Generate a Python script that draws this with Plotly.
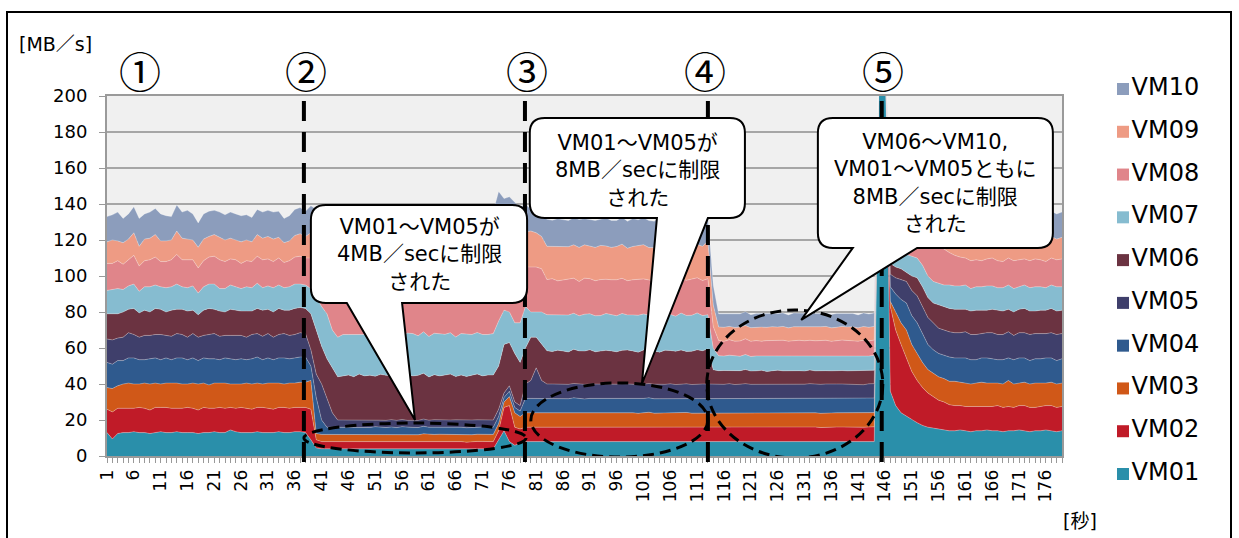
import plotly.graph_objects as go

# ---------------------------------------------------------------- data
seconds = list(range(1, 180))
vm_names = ["VM01", "VM02", "VM03", "VM04", "VM05",
            "VM06", "VM07", "VM08", "VM09", "VM10"]
vm_colors = ["#2A8FAA", "#C01B28", "#D05818", "#2F5A8E", "#3F3F6B",
             "#6B3341", "#86BCD0", "#E0858A", "#EE9B84", "#8C9DBC"]

tick_seconds = list(range(1, 180, 5))

vm01 = [13, 9.5, 12.5, 13, 13, 13.5, 13, 13, 12.5, 13, 13.5, 13, 13, 13.5, 13, 13, 13, 12.5, 13, 13,
        13.5, 13, 13, 14.5, 13.5, 13, 13, 13, 13.5, 13, 13, 13, 13.5, 13, 13, 13.5, 13.5,
        13, 9, 4.5, 4, 4, 4, 4,
        4, 3.9, 4.1, 4, 3.8, 4, 4.2, 4, 3.9, 4, 4.1, 4, 3.8, 4, 4, 4.2, 3.9, 4, 4, 4.1, 3.9, 4, 4, 3.8,
        4, 4.1, 4, 4,
        4, 9, 14, 8, 6, 7,
        8, 8, 8, 8,
        8, 8.1, 7.9, 8, 8, 8.2, 8, 7.9, 8, 8.1, 8, 8, 7.9, 8, 8.2, 8, 8, 7.9, 8, 8.1, 8, 8, 7.9, 8, 8,
        8.1, 8, 7.9, 8, 8, 8,
        8,
        7.9, 8, 8, 8.1, 7.9, 8, 8, 7.9, 8.1, 8, 8, 7.9, 8, 8.1, 8, 7.9, 8, 8, 8.1, 7.9, 8, 8, 7.9, 8.1,
        8, 8, 7.9, 8, 8.1, 8,
        240, 235,
        36, 28, 24, 22, 20, 18.5, 17, 16, 15.5, 15, 14.5, 14, 14, 14.5, 14, 13.5, 14, 14, 14.5, 14,
        14, 13.5, 14, 14, 14.5, 14, 13.5, 14, 14, 14.5, 14, 13.5, 14]

vm02 = [13, 15, 14, 13.5, 13.5, 13, 14, 13.5, 13, 14, 13.5, 14, 13.5, 13, 13.5, 14, 13.5, 13, 14, 13.5,
        13, 14, 13.5, 12.5, 13, 14, 13.5, 13, 13.5, 14, 13.5, 13, 13.5, 14, 13.5, 13.5, 13.5,
        14, 17, 4.5, 4, 4, 4, 4,
        4, 4.1, 3.9, 4, 4.2, 4, 3.9, 4, 4, 4.1, 3.8, 4, 4.1, 4, 3.9, 4, 4.1, 4, 3.9, 4, 4, 4.2, 4, 3.9,
        4, 4, 4.1, 4,
        4, 5, 13, 20, 10, 8,
        8, 8, 8, 8,
        8.2, 8, 8, 8.1, 7.9, 8, 8.2, 8, 8, 7.9, 8.1, 8, 8.2, 8, 7.9, 8, 8.1, 8, 8, 8.2, 7.9, 8, 8.1, 8,
        8, 7.9, 8.2, 8, 8, 8.1, 8,
        8,
        8.2, 8, 8.1, 7.9, 8, 8.2, 8, 8, 8.1, 7.9, 8, 8.2, 8, 8, 7.9, 8.1, 8, 8.2, 8, 7.9, 8, 8.1, 8.2, 8,
        8, 7.9, 8.1, 8, 8, 8.2,
        0, 0,
        47, 42, 38, 33, 27, 23.5, 21, 19, 17.5, 16, 15.5, 14.5, 14, 13.5, 13.5, 14, 13.5, 13.5, 13, 13.5,
        14, 13.5, 13.5, 13, 13.5, 14, 13.5, 13, 13.5, 13.5, 14, 13.5, 13.5]

vm03 = [12, 13, 12.5, 13.5, 14, 13.5, 13, 14, 14.5, 13.5, 13, 13.5, 14, 14, 13.5, 13, 14, 14.5, 13.5, 13,
        14, 13.5, 14, 13, 13.5, 13, 14, 14, 13.5, 13, 14, 14.5, 13.5, 13, 14, 13.5, 14,
        14, 16, 3.5, 4, 4, 4, 4,
        3.9, 4, 4, 4.1, 4, 3.8, 4, 4.1, 4, 4, 3.9, 4.2, 4, 4, 3.9, 4.1, 4, 4, 4.2, 3.9, 4, 4, 4.1, 4,
        3.8, 4, 4, 4.1,
        4, 4, 3, 5, 8, 7,
        8, 8, 8, 8,
        7.9, 7.8, 8, 7.9, 7.9, 8, 7.8, 7.9, 8, 7.9, 7.9, 7.8, 8, 7.9, 7.9, 8, 7.9, 7.8, 7.9, 8, 7.9, 7.9,
        7.8, 8, 7.9, 7.9, 8, 7.9, 7.8, 7.9, 8,
        7.9,
        7.9, 7.8, 8, 7.9, 7.9, 8, 7.8, 7.9, 7.9, 8, 7.9, 7.8, 7.9, 8, 7.9, 7.9, 7.8, 8, 7.9, 7.9, 8, 7.8,
        7.9, 7.9, 8, 7.9, 7.8, 7.9, 8, 7.9,
        0, 0,
        3, 10, 12, 15, 15, 15, 14, 13, 13, 13, 13, 13, 13.5, 13, 13, 12.5, 13, 13.5, 13, 13,
        12.5, 13, 14.5, 13, 12.5, 13, 13, 13.5, 13, 12.5, 13, 13, 13]

vm04 = [14, 13.5, 14, 13, 14, 14.5, 13.5, 13, 14, 14, 13.5, 14, 13, 14, 14.5, 13.5, 14, 13, 14, 14.5,
        13.5, 13, 14, 14, 13.5, 14, 13, 14, 14.5, 13.5, 14, 13, 14, 14.5, 13.5, 14, 14,
        14, 8, 20, 8, 4, 4, 4,
        4, 4, 4.1, 3.9, 4, 4, 4.2, 4, 3.9, 4, 4, 4.1, 4, 3.9, 4, 4.2, 4, 4, 3.9, 4.1, 4, 4, 3.9, 4,
        4.1, 4, 4, 3.9,
        4, 4, 2.5, 3, 3, 3,
        8, 8, 8, 8,
        8, 8.1, 7.9, 8, 8, 8.1, 8, 7.9, 8, 8.1, 8, 7.9, 8, 8, 8.1, 8, 7.9, 8, 8.1, 8, 8, 7.9, 8, 8.1,
        8, 8, 7.9, 8, 8.1, 8, 8,
        8,
        8, 8, 8.1, 7.9, 8, 8, 8.1, 8, 7.9, 8, 8.1, 8, 8, 7.9, 8, 8.1, 8, 8, 7.9, 8.1, 8, 8, 7.9, 8,
        8.1, 8, 8, 7.9, 8, 8.1,
        0, 0,
        8, 10, 13, 15, 16, 17, 16, 14, 13, 13, 13, 13.5, 13, 13.5, 14, 13.5, 13, 13.5, 14, 13.5,
        13, 13.5, 12.5, 13.5, 14, 13.5, 13, 13.5, 13.5, 14, 13.5, 13, 13.5]

vm05 = [13, 13.5, 12.5, 13, 14, 13, 12.5, 13.5, 13, 13, 14, 12.5, 13, 13.5, 13, 12.5, 13.5, 13, 12.5, 13.5,
        14, 13, 12.5, 13, 13.5, 13, 12.5, 13.5, 13, 13, 13.5, 12.5, 13, 13.5, 13, 13, 13.5,
        13, 9, 13, 20, 16, 8, 4,
        4.1, 4, 3.9, 4, 4, 4.1, 4, 3.8, 4, 4.1, 4, 4, 3.9, 4.1, 4, 4, 3.9, 4.2, 4, 4, 4.1, 3.9, 4, 4,
        4.1, 4, 3.9, 4,
        4, 4, 2.5, 3, 3, 3,
        8, 10, 17, 10,
        7.9, 8, 8, 7.8, 8, 8, 7.9, 8.1, 8, 7.9, 8, 8, 7.8, 8, 8.1, 7.9, 8, 8, 7.9, 8, 8.1, 7.9, 8, 8,
        7.8, 8, 8, 7.9, 8.1, 8, 8,
        8,
        7.9, 8, 8, 7.9, 8.1, 8, 7.9, 8, 8, 7.8, 8, 8.1, 7.9, 8, 8, 7.9, 8.1, 8, 7.9, 8, 8, 7.9, 8.1, 8,
        7.9, 8, 8, 7.8, 8, 8,
        0, 0,
        7, 9, 11, 12, 14, 15, 15, 15, 15, 14, 14, 14, 14, 14, 14.5, 14, 14, 13.5, 14, 14.5,
        14, 14, 14.5, 13.5, 14, 14, 14.5, 14, 14, 13.5, 14, 14.5, 14]

vm06 = [14, 14.5, 13.5, 14, 13, 14.5, 13.5, 14, 13, 14.5, 14, 13, 14.5, 13.5, 14, 14.5, 13, 12.5, 14, 14.5,
        13.5, 14, 13, 14.5, 14, 13.5, 14.5, 13, 14, 14.5, 13.5, 14, 14.5, 13, 14, 14.5, 14,
        14, 20, 24.5, 21, 22, 25, 24,
        24.5, 25, 24, 25.5, 24.5, 25, 24, 25.5, 25, 24.5, 25, 24, 25.5, 24.5, 25, 25.5, 24, 25, 24.5, 25,
        25.5, 24, 25, 24.5, 25, 25.5, 24.5, 25,
        25, 24, 27, 24, 27, 24,
        20, 24, 17, 20,
        18.5, 18, 19, 18.5, 18, 19, 18.5, 18.5, 19, 18, 18.5, 19, 18.5, 18, 18.5, 19, 18.5, 18, 19, 18.5,
        18.5, 18, 19, 18.5, 18.5, 19, 18, 18.5, 19, 18.5, 19.5,
        8,
        7.5, 7.7, 7.3, 7.6, 7.5, 7.8, 7.4, 7.5, 7.6, 7.3, 7.5, 7.7, 7.5, 7.4, 7.6, 7.5, 7.3, 7.6, 7.5, 7.7,
        7.4, 7.5, 7.6, 7.5, 7.3, 7.6, 7.5, 7.7, 7.4, 7.5,
        0, 0,
        6, 6, 6, 5, 8, 10, 11, 11, 11, 13, 13, 13, 13, 13, 12.5, 13, 13.5, 13, 12.5, 13,
        13.5, 13, 12.5, 13, 13, 13.5, 13, 12.5, 13, 13, 13.5, 13, 13]

vm07 = [13, 13.5, 14, 12.5, 13, 13.5, 12, 13, 14, 13, 12.5, 13.5, 13, 14, 12.5, 13, 13.5, 12, 13, 13.5,
        14, 12.5, 13, 13.5, 13, 12.5, 13.5, 13, 14, 12.5, 13, 13.5, 13, 12.5, 13, 13.5, 13,
        13, 14, 18, 22, 25, 21, 22,
        23, 22.5, 23.5, 22, 23, 23.5, 22.5, 23, 22, 23.5, 23, 22.5, 23, 23.5, 22, 23, 22.5, 23, 23.5, 22.5,
        23, 22, 23, 23.5, 22.5, 23, 23, 22.5,
        23, 25, 19, 17, 17, 22,
        23, 14, 14, 18,
        20, 20.5, 19.5, 20, 20.5, 20, 19.5, 20.5, 20, 20, 19.5, 20.5, 20, 20, 20.5, 19.5, 20, 20.5, 20, 19.5,
        20, 20.5, 20, 20, 19.5, 20.5, 20, 20, 20.5, 19.5, 19,
        12,
        8.3, 8, 8.5, 8.2, 8, 8.4, 8.1, 8.3, 8, 8.5, 8.2, 8.1, 8.4, 8, 8.3, 8.2, 8.5, 8, 8.3, 8.1,
        8.4, 8.2, 8, 8.3, 8.5, 8.1, 8.2, 8.4, 8, 8.3,
        0, 0,
        7, 8, 9, 10, 11, 11, 12, 12, 12, 12, 12, 13, 13, 13, 13.5, 12.5, 13, 13, 13.5, 13,
        12.5, 13, 13.5, 13, 12.5, 13, 13, 13.5, 13, 12.5, 13, 13.5, 13]

vm08 = [15, 14.5, 15.5, 14, 14.5, 16, 14, 14.5, 15, 15.5, 14, 14.5, 15, 16.5, 15, 15.5, 14.5, 14, 14.5, 15,
        15.5, 16, 15, 14.5, 15, 14, 14.5, 14.5, 15, 15.5, 15, 14.5, 15, 14, 14.5, 15, 15.5,
        15, 17, 20, 22, 22, 24, 24,
        23, 23.5, 22.5, 23, 24, 23, 22.5, 23.5, 23, 22.5, 23, 24, 23, 22.5, 23.5, 23, 22.5, 23, 23.5, 23,
        22.5, 24, 23, 22.5, 23, 23.5, 23, 22.5,
        24, 26, 24, 24, 26, 28,
        22, 25, 25, 24,
        19.5, 20, 19, 19.5, 20, 19.5, 19, 20, 19.5, 19.5, 20, 19, 19.5, 20, 19.5, 19, 19.5, 20, 19.5, 19.5,
        19, 20, 19.5, 19.5, 20, 19, 19.5, 20, 19.5, 19.5, 20,
        12,
        8.5, 8.2, 8.6, 8.3, 8.5, 8.7, 8.4, 8.5, 8.2, 8.6, 8.5, 8.3, 8.6, 8.4, 8.5, 8.7, 8.3, 8.5, 8.4, 8.6,
        8.5, 8.2, 8.5, 8.6, 8.4, 8.5, 8.3, 8.6, 8.5, 8.4,
        0, 0,
        9, 10, 10, 10, 11, 12, 15, 19, 21, 21, 20, 18, 17, 16, 15, 15.5, 15, 14.5, 15, 15.5,
        15, 14.5, 15, 15.5, 15, 14.5, 15, 15.5, 15, 14.5, 15, 15, 15.5]

vm09 = [12, 13, 11, 12, 11.5, 12.5, 11, 12, 12, 12.5, 11.5, 11.5, 11, 13, 12, 11.5, 11, 11.5, 12, 11.5,
        12, 12.5, 12, 11.5, 11, 12, 11.5, 11, 12, 12, 12.5, 12.5, 11.5, 11, 11, 12, 12.5,
        12, 14, 16, 18, 19, 20, 22,
        21.5, 22, 21, 22, 22.5, 21.5, 22, 21, 22.5, 22, 21.5, 22, 21, 22, 22.5, 21.5, 22, 22, 21, 22.5,
        22, 21.5, 22, 21, 22, 22.5, 21.5, 22,
        22, 23, 20, 21, 22, 20,
        19.5, 20, 19, 18,
        18.5, 18, 19, 18.5, 18, 18.5, 19, 18.5, 18, 18.5, 19, 18.5, 18, 18.5, 19, 18, 18.5, 18.5, 19, 18,
        18.5, 19, 18.5, 18, 18.5, 18.5, 19, 18, 18.5, 19, 21,
        12,
        7.5, 7.8, 7.4, 7.6, 7.7, 7.4, 7.6, 7.5, 7.8, 7.4, 7.6, 7.5, 7.7, 7.4, 7.6, 7.5, 7.8, 7.5, 7.4, 7.6,
        7.7, 7.5, 7.4, 7.6, 7.5, 7.8, 7.4, 7.6, 7.5, 7.6,
        0, 0,
        7, 7, 8, 9, 10, 10, 11, 12, 12, 12, 12, 12, 12, 12, 12.5, 12, 11.5, 12, 12.5, 12,
        12, 11.5, 12, 12.5, 12, 12, 11.5, 12, 12.5, 12, 12, 11.5, 12]

vm10 = [14, 14, 16, 13.5, 14, 14.5, 15.5, 14, 14.5, 14.5, 15, 14, 13, 14.5, 14.5, 16, 14.5, 13.5, 14, 14,
        13.5, 14, 14, 14.5, 14.5, 14.5, 14, 13.5, 14, 14.5, 14.5, 15, 14.5, 13.5, 14, 14.5, 14.5,
        14, 15, 13, 14, 16, 19, 21,
        21, 20.5, 21.5, 21, 20, 21, 21.5, 20.5, 21, 21, 20.5, 21.5, 21, 20, 21, 21.5, 20.5, 21, 21, 20.5,
        21, 21.5, 20.5, 21, 21, 20.5, 21.5, 21,
        22, 23, 18, 19, 19, 16,
        15.5, 12, 12, 12,
        15, 14.5, 15.5, 15, 14.5, 15, 15.5, 14.5, 15, 15, 14.5, 15.5, 15, 14.5, 15, 15, 15.5, 14.5, 15, 15,
        14.5, 15.5, 15, 14.5, 15, 15, 15.5, 14.5, 15, 15, 13,
        11,
        7.3, 7.6, 7.2, 7.5, 7.4, 7.7, 7.2, 7.5, 7.4, 7.6, 7.3, 7.5, 7.4, 7.2, 7.6, 7.5, 7.3, 7.4, 7.6, 7.3,
        7.5, 7.4, 7.7, 7.3, 7.5, 7.4, 7.2, 7.6, 7.4, 7.5,
        0, 0,
        8, 8, 8, 9, 9, 9, 9, 10, 11, 11, 12, 13, 13, 14, 14, 14.5, 14, 13.5, 14, 14.5,
        14, 14, 13.5, 14, 14.5, 14, 14, 13.5, 14, 14.5, 14, 14, 14]

vm_series = [vm01, vm02, vm03, vm04, vm05, vm06, vm07, vm08, vm09, vm10]
for name, values in zip(vm_names, vm_series):
    assert len(values) == len(seconds), (name, len(values))

# phase markers (seconds at which the limits changed)
phase_labels = ["①", "②", "③", "④", "⑤"]
phase_label_x = [7.2, 38.1, 79.3, 112.5, 145.6]
phase_lines_x = [37.7, 78.9, 113.0, 145.4]

# ---------------------------------------------------------------- page geometry (pixels)
W, H = 1239, 538
PLOT_LEFT, PLOT_RIGHT, PLOT_TOP, PLOT_BOTTOM = 107, 1062, 96, 456
LEG_TOP_ROW, LEG_BOTTOM_ROW, LEG_SWATCH_X = 89, 474, 1123


def px_x(px):
    """page pixel column -> paper x"""
    return px / W


def px_y(py):
    """page pixel row -> paper y"""
    return 1 - py / H


FONT = "DejaVu Sans, Noto Sans CJK JP, sans-serif"

fig = go.Figure()

# stacked areas
for name, values, color in zip(vm_names, vm_series, vm_colors):
    fig.add_trace(go.Scatter(
        x=seconds, y=values, name=name, stackgroup="vm",
        mode="lines", line=dict(width=0.8, color="rgba(255,255,255,0.35)"),
        fillcolor=color, showlegend=False, hoverinfo="x+y+name",
    ))

# legend column: one square swatch per VM, VM01 at the bottom
n_vm = len(vm_names)
row_step = (LEG_BOTTOM_ROW - LEG_TOP_ROW) / (n_vm - 1)
fig.add_trace(go.Scatter(
    x=[0] * n_vm, y=list(range(n_vm)), xaxis="x2", yaxis="y2",
    mode="markers+text", text=vm_names, textposition="middle right",
    textfont=dict(family=FONT, size=24, color="black"),
    marker=dict(symbol="square", size=12, color=vm_colors),
    cliponaxis=False, showlegend=False, hoverinfo="skip",
))

shapes = []

# grey plot-area background (kept off the legend column)
shapes.append(dict(type="rect", xref="x domain", yref="y domain", x0=0, x1=1, y0=0, y1=1,
                   layer="below", fillcolor="#F0F0F0", line=dict(width=0)))

# dashed phase boundaries
for xv in phase_lines_x:
    shapes.append(dict(type="line", xref="x", yref="paper", x0=xv, x1=xv,
                       y0=px_y(462), y1=px_y(PLOT_TOP), layer="above",
                       line=dict(color="black", width=4, dash="20px,11px")))

# dashed ellipses around the throttled bands
ellipses = [(37.7, 79.1, 1.7, 18.3), (80.0, 113.0, -0.6, 40.6), (112.8, 145.6, -1.1, 81.1)]
for x0, x1, y0, y1 in ellipses:
    shapes.append(dict(type="circle", xref="x", yref="y", x0=x0, x1=x1, y0=y0, y1=y1,
                       layer="above", line=dict(color="black", width=3, dash="11px,6px")))


def callout_path(x0, x1, y0, y1, xa, xb, tip, rx=2.8, ry=8.3):
    tx, ty = tip
    return (f"M {x0 + rx},{y1} L {x1 - rx},{y1} Q {x1},{y1} {x1},{y1 - ry} "
            f"L {x1},{y0 + ry} Q {x1},{y0} {x1 - rx},{y0} L {xb},{y0} L {tx},{ty} "
            f"L {xa},{y0} L {x0 + rx},{y0} Q {x0},{y0} {x0},{y0 + ry} "
            f"L {x0},{y1 - ry} Q {x0},{y1} {x0 + rx},{y1} Z")


callouts = [
    dict(box=(39.0, 79.3, 85.0, 139.4), base=(45.7, 56.0), tip=(58.4, 20.0),
         center=(59.2, 112.2), text="VM01～VM05が<br>4MB／secに制限<br>された"),
    dict(box=(79.8, 119.9, 132.2, 187.8), base=(103.5, 113.0), tip=(100.7, 40.0),
         center=(99.9, 158.6), text="VM01～VM05が<br>8MB／secに制限<br>された"),
    dict(box=(133.5, 177.3, 115.6, 187.8), base=(140.0, 152.0), tip=(130.4, 75.6),
         center=(155.4, 151.5), text="VM06～VM10,<br>VM01～VM05ともに<br>8MB／secに制限<br>された"),
]

annotations = []
for c in callouts:
    x0, x1, y0, y1 = c["box"]
    shapes.append(dict(type="path", xref="x", yref="y", layer="above",
                       path=callout_path(x0, x1, y0, y1, c["base"][0], c["base"][1], c["tip"]),
                       fillcolor="white", line=dict(color="black", width=2)))
    annotations.append(dict(x=c["center"][0], y=c["center"][1], xref="x", yref="y",
                            text=c["text"], showarrow=False, align="center",
                            xanchor="center", yanchor="middle",
                            font=dict(family=FONT, size=21, color="black")))

# phase numbers above the plot
for lab, xv in zip(phase_labels, phase_label_x):
    annotations.append(dict(x=xv, y=px_y(70), xref="x", yref="paper", text=lab,
                            showarrow=False, xanchor="center", yanchor="middle",
                            font=dict(family="Noto Sans CJK JP", size=42, color="black")))

# axis unit labels
annotations.append(dict(x=px_x(17), y=px_y(44), xref="paper", yref="paper",
                        text="[MB／s]", showarrow=False, xanchor="left", yanchor="middle",
                        font=dict(family=FONT, size=19, color="black")))
annotations.append(dict(x=px_x(1080), y=px_y(521), xref="paper", yref="paper",
                        text="[秒]", showarrow=False, xanchor="center", yanchor="middle",
                        font=dict(family=FONT, size=19, color="black")))

# outer frame
shapes.append(dict(type="rect", xref="paper", yref="paper",
                   x0=px_x(7), x1=px_x(1231), y0=px_y(560), y1=px_y(12),
                   layer="above", line=dict(color="black", width=2)))

fig.update_layout(
    width=W, height=H,
    margin=dict(l=0, r=0, t=0, b=0, autoexpand=False),
    paper_bgcolor="white", plot_bgcolor="rgba(0,0,0,0)",
    font=dict(family=FONT, color="black"),
    shapes=shapes, annotations=annotations,
    showlegend=False, hovermode="closest",
    xaxis=dict(
        domain=[px_x(PLOT_LEFT), px_x(PLOT_RIGHT)],
        range=[1, 179], tickmode="array", tickvals=tick_seconds,
        ticktext=[str(t) for t in tick_seconds], tickangle=-90,
        tickfont=dict(family=FONT, size=17, color="black"),
        ticks="outside", ticklen=5, tickcolor="#999999", tickwidth=1,
        minor=dict(dtick=1, tick0=1, ticks="outside", ticklen=5, tickcolor="#999999", tickwidth=1),
        showgrid=False, zeroline=False,
        showline=True, linecolor="#9A9A9A", linewidth=2, mirror=True,
    ),
    yaxis=dict(
        domain=[px_y(PLOT_BOTTOM), px_y(PLOT_TOP)],
        range=[0, 200], dtick=20, tick0=0,
        tickfont=dict(family=FONT, size=18, color="black"),
        ticks="outside", ticklen=6, tickcolor="#999999", tickwidth=1, ticklabelstandoff=8,
        showgrid=True, gridcolor="#A6A6A6", gridwidth=1.5, zeroline=False,
        showline=True, linecolor="#9A9A9A", linewidth=2, mirror=True,
    ),
    xaxis2=dict(
        domain=[px_x(LEG_SWATCH_X), 1.0], range=[0, 1], anchor="y2",
        visible=False, fixedrange=True,
    ),
    yaxis2=dict(
        domain=[px_y(LEG_BOTTOM_ROW + row_step / 2), px_y(LEG_TOP_ROW - row_step / 2)],
        range=[-0.5, n_vm - 0.5], anchor="x2", visible=False, fixedrange=True,
    ),
)

fig.write_html("out.html")
